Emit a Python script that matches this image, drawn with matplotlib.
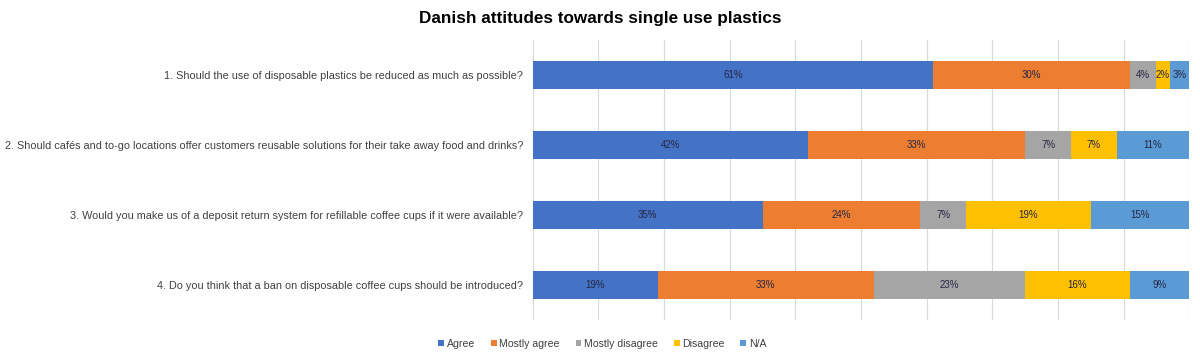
import numpy as np
import matplotlib.pyplot as plt

plt.rcParams['font.family'] = ['Liberation Sans', 'DejaVu Sans']

# data
questions = [
    "1. Should the use of disposable plastics be reduced as much as possible?",
    "2. Should cafés and to-go locations offer customers reusable solutions for their take away food and drinks?",
    "3. Would you make us of a deposit return system for refillable coffee cups if it were available?",
    "4. Do you think that a ban on disposable coffee cups should be introduced?",
]
categories = ["Agree", "Mostly agree", "Mostly disagree", "Disagree", "N/A"]
agree = [61, 42, 35, 19]
mostly_agree = [30, 33, 24, 33]
mostly_disagree = [4, 7, 7, 23]
disagree = [2, 7, 19, 16]
na = [3, 11, 15, 9]

series = [agree, mostly_agree, mostly_disagree, disagree, na]
colors = ["#4472C4", "#ED7D31", "#A5A5A5", "#FFC000", "#5B9BD5"]

fig = plt.figure(figsize=(12, 3.59), dpi=100)
ax = fig.add_axes([0.444, 0.109, 0.547, 0.78])

y = np.arange(len(questions))
left = np.zeros(len(questions))
for name, vals, c in zip(categories, series, colors):
    vals = np.array(vals, dtype=float)
    bars = ax.barh(y, vals, left=left, height=0.4, color=c, label=name, zorder=3)
    for b, v in zip(bars, vals):
        ax.text(b.get_x() + b.get_width() / 2, b.get_y() + b.get_height() / 2,
                f"{int(v)}%", ha='center', va='center', fontsize=7,
                color='#262645', zorder=4)
    left += vals

ax.set_xlim(0, 100)
ax.set_ylim(3.5, -0.5)
ax.set_xticks(np.arange(0, 101, 10))
ax.xaxis.grid(True, color='#D9D9D9', linewidth=0.8, zorder=0)
ax.tick_params(axis='x', length=0, labelbottom=False)
ax.tick_params(axis='y', length=0, labelsize=7.85, colors='#404040', pad=7)
ax.set_yticks(y)
ax.set_yticklabels(questions)
for s in ax.spines.values():
    s.set_visible(False)

fig.suptitle("Danish attitudes towards single use plastics", fontsize=12.3,
             fontweight='bold', y=0.97, x=0.5)

handles, labels = ax.get_legend_handles_labels()
leg = fig.legend(handles, labels, loc='center', bbox_to_anchor=(0.502, 0.042),
                 ncol=5, frameon=False, fontsize=7.6, handlelength=0.55,
                 handleheight=0.55, handletextpad=0.25, columnspacing=1.5)
for t in leg.get_texts():
    t.set_color('#404040')

fig.savefig("out.png", dpi=100)
